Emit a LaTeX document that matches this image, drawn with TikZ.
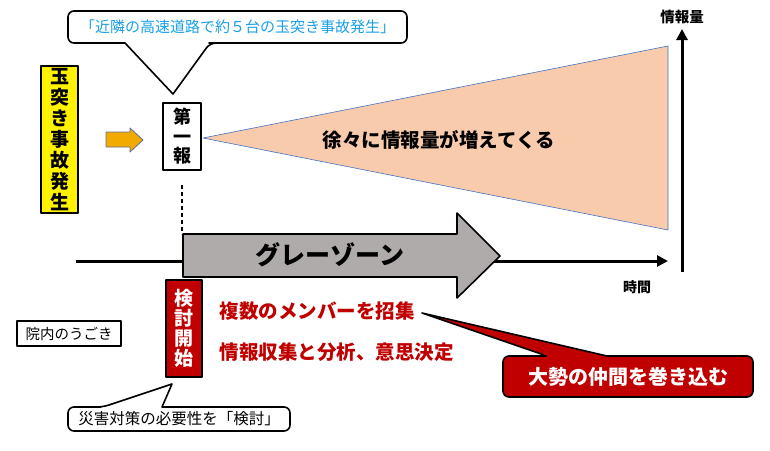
\documentclass[tikz,border=0pt]{standalone}
\usepackage{fontspec}
\setmainfont{Noto Sans CJK JP}
\usetikzlibrary{arrows.meta}
\definecolor{newsblue}{RGB}{25,160,230}
\definecolor{alarmred}{RGB}{192,0,0}
\definecolor{wedgefill}{RGB}{248,203,173}
\definecolor{wedgeline}{RGB}{68,114,196}
\definecolor{greyzone}{RGB}{175,171,171}
\definecolor{hintorange}{RGB}{240,170,0}
\definecolor{hintline}{RGB}{100,110,150}
\begin{document}
\begin{tikzpicture}
  [x=1pt,y=-1pt,line join=round,
   box/.style={draw,line width=1.6pt,inner sep=0pt,align=center},
   vtext/.style={font=\fontsize{19}{21}\selectfont\bfseries},
   redtext/.style={anchor=west,text=alarmred,font=\fontsize{19.5}{22}\selectfont\bfseries},
   axis/.style={line width=3pt,-{Triangle[length=11pt,width=11pt]}},
   callout/.style={draw,line width=1.6pt,fill=white}]
  \useasboundingbox (0,0) rectangle (770,450);

  % wedge of information
  \draw[wedgeline,fill=wedgefill,line width=.6pt] (203,138) -- (668,46) -- (668,230) -- cycle;

  % axes
  \coordinate (t0) at (76,261);
  \coordinate (t1) at (668,261);
  \coordinate (q0) at (682,272);
  \coordinate (q1) at (682,29);
  \draw[axis] (t0) -- (t1);
  \draw[axis] (q0) -- (q1);
  \node (qlabel) at (682,17) {\fontsize{14.5}{16}\selectfont\bfseries 情報量};
  \node (tlabel) at (637,287) {\fontsize{14}{16}\selectfont\bfseries 時間};

  % grey zone
  \draw[fill=greyzone,line width=1.6pt] (183,234) -- (457,234) -- (457,213) -- (500,256)
    -- (457,298) -- (457,277) -- (183,277) -- cycle;
  \node (grey) at (330,255) {\fontsize{25}{28}\selectfont\bfseries グレーゾーン};

  % left side
  \node[box,fill=yellow,minimum width=37,minimum height=147,vtext] (crash) at (59.5,139.5)
    {玉\\突\\き\\事\\故\\発\\生};
  \draw[draw=hintline,fill=hintorange,line width=.8pt] (106,132) -- (130,132) -- (130,128)
    -- (143,140) -- (130,152) -- (130,147) -- (106,147) -- cycle;
  \node[box,fill=white,minimum width=38,minimum height=67,font=\fontsize{18}{19.5}\selectfont\bfseries] (first) at (182,136.5)
    {第\\一\\報};
  \coordinate (d0) at (182,185);
  \coordinate (d1) at (182,234);
  \draw[line width=1.5pt,dash pattern=on 4pt off 3pt] (d0) -- (d1);

  \node (info) at (439,140) {\fontsize{19.5}{22}\selectfont\bfseries 徐々に情報量が増えてくる};

  % top callout
  \draw[callout] (68,27) [rounded corners=6] |- (407,11) |- (215,43) -- (210,43) [sharp corners]
    -- (173,94) -- (125,43) -- (120,43) [rounded corners=6] -| (68,27) -- cycle;
  \node (news) at (237.5,27) {\fontsize{15}{17}\selectfont\color{newsblue}「近隣の高速道路で約５台の玉突き事故発生」};

  % hospital side
  \node[box,minimum width=104,minimum height=25,font=\fontsize{14.5}{16}\selectfont] (hosp) at (69,333.5) {院内のうごき};
  \node[box,fill=alarmred,text=white,minimum width=36,minimum height=97,font=\fontsize{19}{20}\selectfont\bfseries] (start) at (184,328.5)
    {検\\討\\開\\始};
  \node[redtext] (members) at (216,311) {複数のメンバーを招集};
  \node[redtext] (decide) at (216,352) {情報収集と分析、意思決定};

  % bottom callout
  \draw[callout] (68,419) [rounded corners=6] |- (95,407) -- (103,407) [sharp corners]
    -- (172,384) -- (162,407) -- (170,407) [rounded corners=6] -| (290,431) -| (68,419) -- cycle;
  \node (study) at (179,419) {\fontsize{15.5}{17}\selectfont 災害対策の必要性を「検討」};

  % red callout
  \draw[callout,fill=alarmred] (503,376) [rounded corners=6] |- (540,356) -- (547,356) [sharp corners]
    -- (422,313) -- (607,356) -- (615,356) [rounded corners=6] -| (753,397) -| (503,376) -- cycle;
  \node[text=white] (allies) at (628,376.5) {\fontsize{20}{22}\selectfont\bfseries 大勢の仲間を巻き込む};
\end{tikzpicture}
\end{document}
